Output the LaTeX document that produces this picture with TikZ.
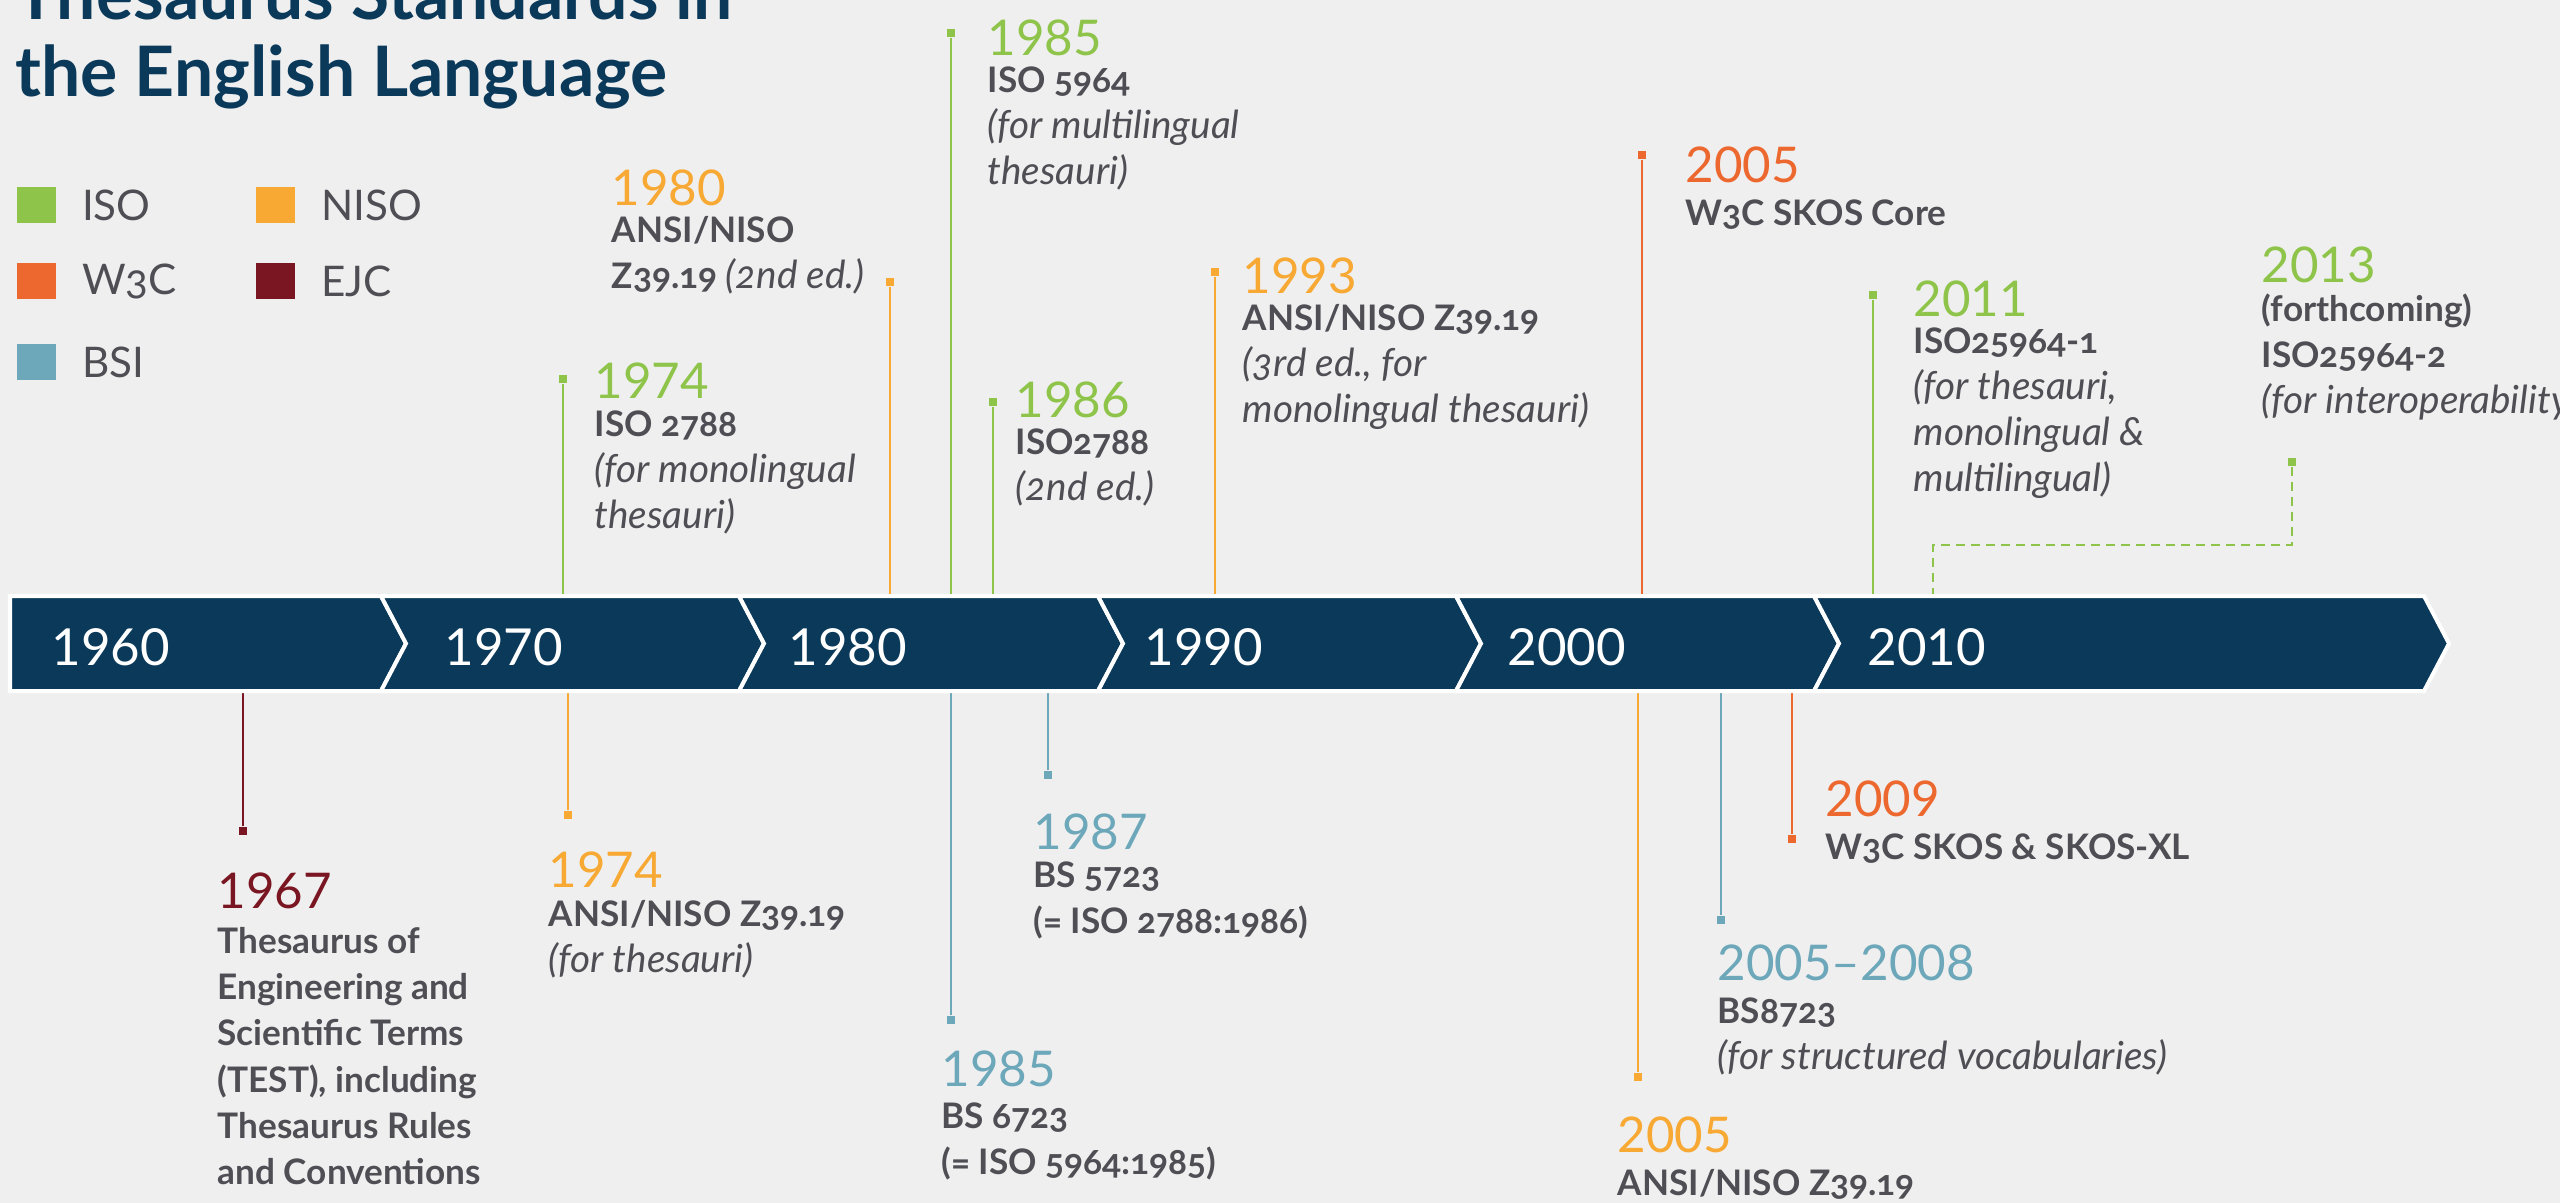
\documentclass[tikz,border=0pt]{standalone}
\usepackage{fontspec}
\setmainfont{Lato}
\newfontfamily\bodyfont{Lato}[Numbers=OldStyle]
\usetikzlibrary{positioning}
\definecolor{bgc}{RGB}{239,239,239}
\definecolor{navy}{RGB}{10,57,90}
\definecolor{textc}{RGB}{78,78,84}
\definecolor{isoc}{RGB}{143,196,74}
\definecolor{nisoc}{RGB}{247,169,52}
\definecolor{w3cc}{RGB}{236,104,46}
\definecolor{ejcc}{RGB}{122,22,34}
\definecolor{bsic}{RGB}{108,167,186}
\newcommand\lite[1]{{\mdseries\itshape\fontsize{11}{13.1}\selectfont #1}}
\tikzset{% timeline looks
  decade/.style={anchor=base west, inner sep=0pt, text=white, font=\fontsize{14.5}{17}\selectfont},
  yr/.style={anchor=base west, inner sep=0pt, text=#1, font=\fontsize{14}{16}\selectfont},
  body/.style={align=left, inner sep=0pt, text=textc, font=\bodyfont\bfseries\fontsize{10}{13.1}\selectfont, execute at begin node=\strut},
  knob/.style={fill=#1, inner sep=0pt, minimum size=0.08cm},
  stalk/.style={draw=#1, line width=0.025cm},
  seg/.style={fill=navy, draw=white, line width=0.04cm},
  swatch/.style={fill=#1, inner sep=0pt, minimum width=0.39cm, minimum height=0.36cm, anchor=west},
  keytext/.style={inner sep=0pt, text=textc, font=\bodyfont\fontsize{12}{14}\selectfont},
  heading/.style={anchor=base west, inner sep=0pt, text=navy, font=\bfseries\fontsize{19.8}{23}\selectfont}
}

\begin{document}
\begin{tikzpicture}[x=0.01cm, y=-0.01cm]
\useasboundingbox (0,0) rectangle (2560,1203);
\clip (0,0) rectangle (2560,1203);
\fill[bgc] (0,0) rectangle (2560,1203);
\node[heading] (head1) at (15,20) {Thesaurus Standards in};
\node[heading] (head2) at (15,97) {the English Language};
\foreach \name/\col/\x/\y in {ISO/isoc/16/205, W3C/w3cc/16/281, BSI/bsic/16/362, NISO/nisoc/255/205, EJC/ejcc/255/281}{
  \node[swatch=\col] (sw\name) at (\x,\y) {};
  \node[keytext, right=0.25cm of sw\name] (kt\name) {\name};
}
\coordinate (bandtop) at (0,596);
\coordinate (bandbot) at (0,691);
% above the band
\node[knob=isoc] (k74i) at (563,379) {};
\node[yr=isoc] (y74i) at (594,398) {1974};
\node[body, below right=0.12cm and 0cm of y74i.base west] (t74i) {ISO 2788\\\lite{(for monolingual}\\\lite{thesauri)}};
\draw[stalk=isoc] (k74i) -- (k74i |- bandtop);
\node[knob=nisoc] (k80n) at (890,282) {};
\node[yr=nisoc] (y80n) at (611,205) {1980};
\node[body, below right=0.11cm and 0cm of y80n.base west] (t80n) {ANSI/NISO\\Z39.19 \lite{(2nd ed.)}};
\draw[stalk=nisoc] (k80n) -- (k80n |- bandtop);
\node[knob=isoc] (k85i) at (951,33) {};
\node[yr=isoc] (y85i) at (987,55) {1985};
\node[body, below right=0.11cm and 0cm of y85i.base west] (t85i) {ISO 5964\\\lite{(for multilingual}\\\lite{thesauri)}};
\draw[stalk=isoc] (k85i) -- (k85i |- bandtop);
\node[knob=isoc] (k86i) at (993,402) {};
\node[yr=isoc] (y86i) at (1015,417) {1986};
\node[body, below right=0.11cm and 0cm of y86i.base west] (t86i) {ISO2788\\\lite{(2nd ed.)}};
\draw[stalk=isoc] (k86i) -- (k86i |- bandtop);
\node[knob=nisoc] (k93n) at (1215,272) {};
\node[yr=nisoc] (y93n) at (1242,293) {1993};
\node[body, below right=0.11cm and 0cm of y93n.base west] (t93n) {ANSI/NISO Z39.19\\\lite{(3rd ed., for}\\\lite{monolingual thesauri)}};
\draw[stalk=nisoc] (k93n) -- (k93n |- bandtop);
\node[knob=w3cc] (k05w) at (1642,155) {};
\node[yr=w3cc] (y05w) at (1685,182) {2005};
\node[body, below right=0.11cm and 0cm of y05w.base west] (t05w) {W3C SKOS Core};
\draw[stalk=w3cc] (k05w) -- (k05w |- bandtop);
\node[knob=isoc] (k11i) at (1873,295) {};
\node[yr=isoc] (y11i) at (1913,316) {2011};
\node[body, below right=0.11cm and 0cm of y11i.base west] (t11i) {ISO25964-1\\\lite{(for thesauri,}\\\lite{monolingual \&}\\\lite{multilingual)}};
\draw[stalk=isoc] (k11i) -- (k11i |- bandtop);
\node[knob=isoc] (k13i) at (2292,462) {};
\node[yr=isoc] (y13i) at (2261,282) {2013};
\node[body, below right=0.11cm and 0cm of y13i.base west] (t13i) {(forthcoming)\\ISO25964-2\\\lite{(for interoperability)}};
\coordinate (bend13) at (1933,545);
\draw[stalk=isoc, line width=0.02cm, dash pattern=on 0.09cm off 0.06cm] (k13i) |- (bend13) -- (bend13 |- bandtop);
% below the band
\node[knob=ejcc] (k67e) at (243,831) {};
\node[yr=ejcc] (y67e) at (217,908) {1967};
\node[body, below right=0.19cm and 0cm of y67e.base west] (t67e) {Thesaurus of\\Engineering and\\Scientific Terms\\(TEST), including\\Thesaurus Rules\\and Conventions};
\draw[stalk=ejcc] (k67e) -- (k67e |- bandbot);
\node[knob=nisoc] (k74n) at (568,815) {};
\node[yr=nisoc] (y74n) at (548,887) {1974};
\node[body, below right=0.13cm and 0cm of y74n.base west] (t74n) {ANSI/NISO Z39.19\\\lite{(for thesauri)}};
\draw[stalk=nisoc] (k74n) -- (k74n |- bandbot);
\node[knob=bsic] (k85b) at (951,1020) {};
\node[yr=bsic] (y85b) at (941,1086) {1985};
\node[body, below right=0.16cm and 0cm of y85b.base west] (t85b) {BS 6723\\(= ISO 5964:1985)};
\draw[stalk=bsic] (k85b) -- (k85b |- bandbot);
\node[knob=bsic] (k87b) at (1048,775) {};
\node[yr=bsic] (y87b) at (1033,849) {1987};
\node[body, below right=0.12cm and 0cm of y87b.base west] (t87b) {BS 5723\\(= ISO 2788:1986)};
\draw[stalk=bsic] (k87b) -- (k87b |- bandbot);
\node[knob=nisoc] (k05n) at (1638,1077) {};
\node[yr=nisoc] (y05n) at (1617,1152) {2005};
\node[body, below right=0.11cm and 0cm of y05n.base west] (t05n) {ANSI/NISO Z39.19};
\draw[stalk=nisoc] (k05n) -- (k05n |- bandbot);
\node[knob=bsic] (k08b) at (1721,920) {};
\node[yr=bsic] (y08b) at (1717,980) {2005--2008};
\node[body, below right=0.17cm and 0cm of y08b.base west] (t08b) {BS8723\\\lite{(for structured vocabularies)}};
\draw[stalk=bsic] (k08b) -- (k08b |- bandbot);
\node[knob=w3cc] (k09w) at (1792,839) {};
\node[yr=w3cc] (y09w) at (1825,816) {2009};
\node[body, below right=0.11cm and 0cm of y09w.base west] (t09w) {W3C SKOS \& SKOS-XL};
\draw[stalk=w3cc] (k09w) -- (k09w |- bandbot);
% the band
\path[seg] (10,596) -- (381,596) -- (406,643.5) -- (381,691) -- (10,691) -- cycle;
\foreach \a/\b in {381/739, 739/1098, 1098/1456, 1456/1814, 1814/2424}
  \path[seg] (\a,596) -- (\b,596) -- (\b+25,643.5) -- (\b,691) -- (\a,691) -- (\a+25,643.5) -- cycle;
\foreach \x/\yr in {51/1960, 444/1970, 788/1980, 1144/1990, 1507/2000, 1867/2010}
  \node[decade] (dec\yr) at (\x,665) {\yr};
\end{tikzpicture}
\end{document}
